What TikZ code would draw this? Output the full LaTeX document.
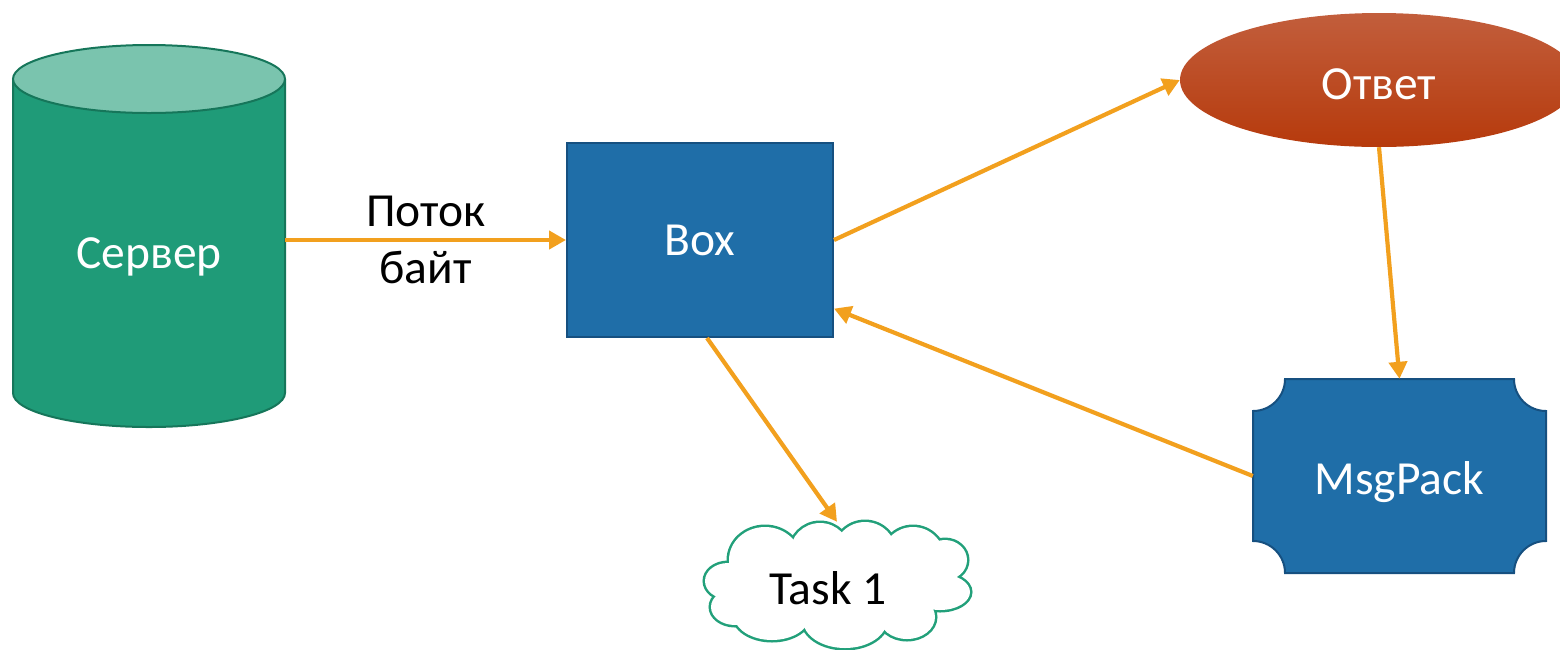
\documentclass[tikz,border=0pt]{standalone}
\usepackage{fontspec}
\setmainfont{Carlito}
\usetikzlibrary{arrows.meta,shapes.geometric,calc}
\definecolor{srvgreen}{RGB}{31,155,120}
\definecolor{srvtop}{RGB}{122,196,174}
\definecolor{srvedge}{RGB}{22,118,90}
\definecolor{boxblue}{RGB}{31,110,168}
\definecolor{boxedge}{RGB}{22,80,128}
\definecolor{flow}{RGB}{242,160,30}
\definecolor{ansTop}{RGB}{194,94,60}
\definecolor{ansBot}{RGB}{182,58,12}
\definecolor{cloudgreen}{RGB}{34,160,122}
\tikzset{
  txt/.style={font=\fontsize{47.5}{57}\selectfont},
  wtxt/.style={txt, text=white},
  flowarrow/.style={draw=flow, line width=4.2pt, -{Triangle[length=17pt,width=18pt]}},
}
% puffs of the task cloud: centre x, centre y, x radius, y radius
\def\cloudpuffs{765/560/36/33, 820/553/30/30, 865/553/31/31, 913/560/32/33,
  945/560/22/20, 940/592/30/18, 907/617/28/22, 845/620/42/28,
  772/615/38/25, 735/607/24/18, 728/581/23/18, 838/585/100/40}
\begin{document}
\begin{tikzpicture}[x=1pt,y=-1pt]
\useasboundingbox (0,0) rectangle (1560,649);

% server cylinder
\fill[srvgreen] (13,79) -- (13,393) arc[start angle=180,end angle=0,x radius=136,y radius=34] -- (285,79) -- cycle;
\draw[srvedge, line width=2pt] (13,79) -- (13,393) arc[start angle=180,end angle=0,x radius=136,y radius=34] -- (285,79);
\filldraw[fill=srvtop, draw=srvedge, line width=2pt] (149,79) ellipse[x radius=136,y radius=34];
\node[minimum width=272pt, minimum height=382pt, inner sep=0pt] (server) at (149,236) {};
\node[wtxt] (servertext) at (149,257) {Сервер};

% box
\node[wtxt, draw=boxedge, fill=boxblue, line width=2pt, minimum width=266pt, minimum height=194pt, inner sep=0pt] (box) at (700,240) {Box};

% answer ellipse
\node[ellipse, top color=ansTop, bottom color=ansBot, minimum width=398pt, minimum height=134pt, inner sep=0pt] (answer) at (1379,80) {};
\node[wtxt] (answertext) at (1379,84) {Ответ};

% msgpack plaque with concave corners
\filldraw[fill=boxblue, draw=boxedge, line width=2pt]
  (1285,379) -- (1514,379) arc[start angle=180,end angle=90,radius=32]
  -- (1546,541) arc[start angle=270,end angle=180,radius=32]
  -- (1285,573) arc[start angle=0,end angle=-90,radius=32]
  -- (1253,411) arc[start angle=90,end angle=0,radius=32] -- cycle;
\node[minimum width=293pt, minimum height=194pt, inner sep=0pt] (msgpack) at (1399.5,476) {};
\node[wtxt] (msgpacktext) at (1399.5,482) {MsgPack};

% task cloud: union of puffs, outline drawn double width then covered by the fills
\foreach \cx/\cy/\rx/\ry in \cloudpuffs
  \draw[cloudgreen, line width=5pt] (\cx,\cy) ellipse[x radius=\rx, y radius=\ry];
\foreach \cx/\cy/\rx/\ry in \cloudpuffs
  \fill[white] (\cx,\cy) ellipse[x radius=\rx, y radius=\ry];
\node[minimum width=265pt, minimum height=126pt, inner sep=0pt] (task) at (837,585) {};
\node[txt] (tasktext) at (828,588) {Task 1};

% connectors
\draw[flowarrow] (box.west -| server.east) -- (box.west)
  node[midway, txt, text=black, align=center] {Поток\\байт};
\draw[flowarrow] (box.east) -- (answer.west);
\draw[flowarrow] (answer.south) -- (msgpack.north);
\draw[flowarrow] (msgpack.west) -- ($(box.east)!0.7!(box.south east)$);
\draw[flowarrow] ([xshift=7pt]box.south) -- (task.north);
\end{tikzpicture}
\end{document}
